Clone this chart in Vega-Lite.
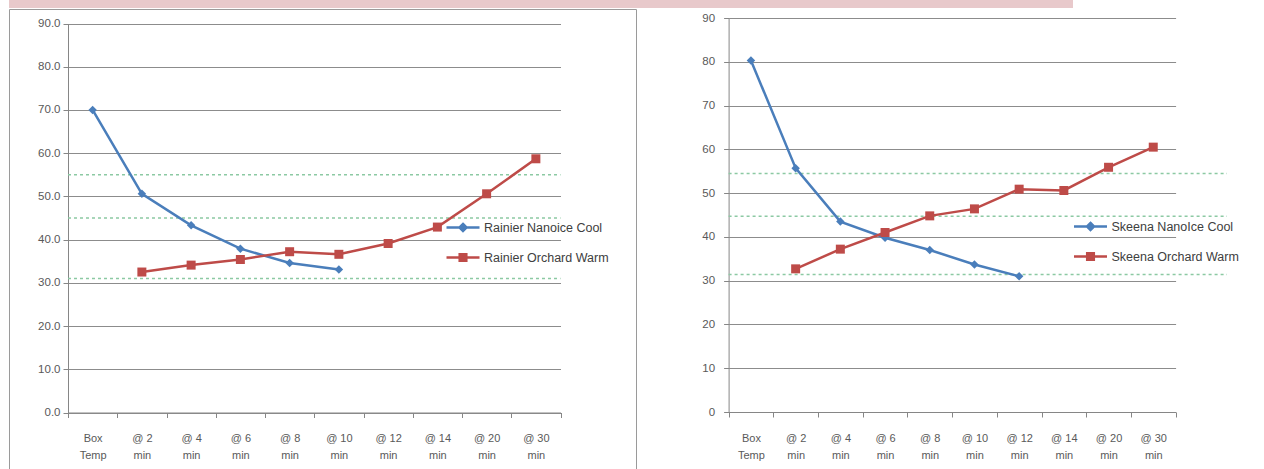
{
  "$schema": "https://vega.github.io/schema/vega-lite/v6.json",
  "padding": {"left": 8, "top": 0, "right": 0, "bottom": 0},
  "background": "white",
  "spacing": 0,
  "config": {
    "font": "Liberation Sans",
    "view": {"stroke": null},
    "axis": {
      "labelFont": "Liberation Sans",
      "labelFontSize": 11.5,
      "labelColor": "#595959",
      "domainColor": "#868686",
      "tickColor": "#868686",
      "gridColor": "#8c8c8c",
      "gridWidth": 1
    },
    "legend": {
      "labelFont": "Liberation Sans",
      "labelFontSize": 12.5,
      "labelColor": "#404040",
      "labelLimit": 0
    }
  },
  "datasets": {
    "rainier": [
      {"time": "Box Temp", "series": "Rainier Nanoice Cool", "temp": 70.0},
      {"time": "@ 2 min", "series": "Rainier Nanoice Cool", "temp": 50.6},
      {"time": "@ 4 min", "series": "Rainier Nanoice Cool", "temp": 43.3},
      {"time": "@ 6 min", "series": "Rainier Nanoice Cool", "temp": 37.9},
      {"time": "@ 8 min", "series": "Rainier Nanoice Cool", "temp": 34.6},
      {"time": "@ 10 min", "series": "Rainier Nanoice Cool", "temp": 33.1},
      {"time": "@ 2 min", "series": "Rainier Orchard Warm", "temp": 32.5},
      {"time": "@ 4 min", "series": "Rainier Orchard Warm", "temp": 34.1},
      {"time": "@ 6 min", "series": "Rainier Orchard Warm", "temp": 35.4},
      {"time": "@ 8 min", "series": "Rainier Orchard Warm", "temp": 37.2},
      {"time": "@ 10 min", "series": "Rainier Orchard Warm", "temp": 36.6},
      {"time": "@ 12 min", "series": "Rainier Orchard Warm", "temp": 39.1},
      {"time": "@ 14 min", "series": "Rainier Orchard Warm", "temp": 42.9},
      {"time": "@ 20 min", "series": "Rainier Orchard Warm", "temp": 50.6},
      {"time": "@ 30 min", "series": "Rainier Orchard Warm", "temp": 58.7}
    ],
    "rainierLimits": [{"level": 31}, {"level": 45}, {"level": 55}],
    "skeena": [
      {"time": "Box Temp", "series": "Skeena NanoIce Cool", "temp": 80.3},
      {"time": "@ 2 min", "series": "Skeena NanoIce Cool", "temp": 55.7},
      {"time": "@ 4 min", "series": "Skeena NanoIce Cool", "temp": 43.5},
      {"time": "@ 6 min", "series": "Skeena NanoIce Cool", "temp": 39.8},
      {"time": "@ 8 min", "series": "Skeena NanoIce Cool", "temp": 37.0},
      {"time": "@ 10 min", "series": "Skeena NanoIce Cool", "temp": 33.7},
      {"time": "@ 12 min", "series": "Skeena NanoIce Cool", "temp": 31.0},
      {"time": "@ 2 min", "series": "Skeena Orchard Warm", "temp": 32.7},
      {"time": "@ 4 min", "series": "Skeena Orchard Warm", "temp": 37.2},
      {"time": "@ 6 min", "series": "Skeena Orchard Warm", "temp": 41.0},
      {"time": "@ 8 min", "series": "Skeena Orchard Warm", "temp": 44.8},
      {"time": "@ 10 min", "series": "Skeena Orchard Warm", "temp": 46.4},
      {"time": "@ 12 min", "series": "Skeena Orchard Warm", "temp": 50.9},
      {"time": "@ 14 min", "series": "Skeena Orchard Warm", "temp": 50.6},
      {"time": "@ 20 min", "series": "Skeena Orchard Warm", "temp": 55.9},
      {"time": "@ 30 min", "series": "Skeena Orchard Warm", "temp": 60.5}
    ],
    "skeenaLimits": [{"level": 31.4}, {"level": 44.7}, {"level": 54.5}]
  },
  "vconcat": [
    {
      "width": 1064,
      "height": 8,
      "view": {"fill": "#e8c9cb", "stroke": null},
      "data": {"values": []},
      "mark": {"type": "text", "text": ""},
      "encoding": {}
    },
    {
      "spacing": 3,
      "resolve": {"scale": {"color": "independent"}},
      "hconcat": [
        {
          "width": 627,
          "height": 465,
          "view": {"stroke": "#9a9a9a", "strokeWidth": 1, "fill": "white"},
          "resolve": {"scale": {"x": "independent"}, "axis": {"x": "independent"}},
          "layer": [
            {
              "data": {"name": "rainierLimits"},
              "mark": {"type": "rule", "color": "#8cc9a3", "strokeWidth": 1.5, "strokeDash": [3, 3]},
              "encoding": {
                "y": {
                  "field": "level", "type": "quantitative",
                  "scale": {"domain": [0, 90], "range": [403.5, 14.5], "nice": false, "zero": true},
                  "axis": {"title": null, "offset": -59, "values": [0, 10, 20, 30, 40, 50, 60, 70, 80, 90], "format": ".1f", "grid": true, "tickSize": 5, "labelPadding": 3}
                },
                "x": {"datum": 0, "type": "quantitative", "scale": {"domain": [0, 1], "range": [59, 551.5]}, "axis": null},
                "x2": {"datum": 1}
              }
            },
            {
              "data": {"name": "rainier"},
              "encoding": {
                "x": {
                  "field": "time", "type": "ordinal",
                  "scale": {"type": "band", "domain": ["Box Temp", "@ 2 min", "@ 4 min", "@ 6 min", "@ 8 min", "@ 10 min", "@ 12 min", "@ 14 min", "@ 20 min", "@ 30 min"], "range": [59, 551.5], "paddingInner": 0, "paddingOuter": 0},
                  "axis": {"orient": "bottom", "offset": -61.5, "title": null, "tickBand": "extent", "tickSize": 5, "labelPadding": 15, "labelAngle": 0, "labelLineHeight": 17, "labelFontSize": 11, "labelOverlap": false, "labelExpr": "!isString(datum.value) ? '' : datum.value == 'Box Temp' ? ['Box', 'Temp'] : [replace(datum.value, ' min', ''), 'min']"}
                },
                "y": {
                  "field": "temp", "type": "quantitative",
                  "scale": {"domain": [0, 90], "range": [403.5, 14.5], "nice": false, "zero": true},
                  "axis": {"title": null, "offset": -59, "values": [0, 10, 20, 30, 40, 50, 60, 70, 80, 90], "format": ".1f", "grid": true, "tickSize": 5, "labelPadding": 3}
                },
                "color": {
                  "field": "series", "type": "nominal",
                  "scale": {"domain": ["Rainier Nanoice Cool", "Rainier Orchard Warm"], "range": ["#4a7ebb", "#be4b48"]},
                  "legend": {
                    "orient": "none", "legendX": 441.5, "legendY": 206, "title": null, "padding": 0,
                    "symbolSize": 484, "symbolStrokeWidth": 2.5, "labelOffset": 8.5, "rowPadding": 8,
                    "encode": {
                      "symbols": {
                        "update": {
                          "shape": {"signal": "datum.value === 'Rainier Nanoice Cool' ? 'M-1.5,0H1.5M0,-0.32L0.32,0L0,0.32L-0.32,0Z' : 'M-1.5,0H1.5M-0.3,-0.3H0.3V0.3H-0.3Z'"},
                          "fill": {"signal": "datum.value === 'Rainier Nanoice Cool' ? '#4a7ebb' : '#be4b48'"},
                          "stroke": {"signal": "datum.value === 'Rainier Nanoice Cool' ? '#4a7ebb' : '#be4b48'"},
                          "strokeWidth": {"value": 2.5},
                          "opacity": {"value": 1}
                        }
                      }
                    }
                  }
                }
              },
              "layer": [
                {"mark": {"type": "line", "strokeWidth": 2.5}},
                {
                  "transform": [{"filter": "datum.series === 'Rainier Nanoice Cool'"}],
                  "mark": {"type": "point", "shape": "diamond", "filled": true, "opacity": 1, "size": 72}
                },
                {
                  "transform": [{"filter": "datum.series === 'Rainier Orchard Warm'"}],
                  "mark": {"type": "point", "shape": "square", "filled": true, "opacity": 1, "size": 81}
                }
              ]
            }
          ]
        },
        {
          "width": 624,
          "height": 465,
          "view": {"stroke": null},
          "resolve": {"scale": {"x": "independent"}, "axis": {"x": "independent"}},
          "layer": [
            {
              "data": {"name": "skeenaLimits"},
              "mark": {"type": "rule", "color": "#8cc9a3", "strokeWidth": 1.5, "strokeDash": [3, 3]},
              "encoding": {
                "y": {
                  "field": "level", "type": "quantitative",
                  "scale": {"domain": [0, 90], "range": [403, 9], "nice": false, "zero": true},
                  "axis": {"title": null, "offset": -88.6, "values": [0, 10, 20, 30, 40, 50, 60, 70, 80, 90], "format": "d", "grid": true, "tickSize": 5, "labelPadding": 9}
                },
                "x": {"datum": 0, "type": "quantitative", "scale": {"domain": [0, 1], "range": [88.6, 535.6]}, "axis": null},
                "x2": {"datum": 1.115}
              }
            },
            {
              "data": {"name": "skeena"},
              "encoding": {
                "x": {
                  "field": "time", "type": "ordinal",
                  "scale": {"type": "band", "domain": ["Box Temp", "@ 2 min", "@ 4 min", "@ 6 min", "@ 8 min", "@ 10 min", "@ 12 min", "@ 14 min", "@ 20 min", "@ 30 min"], "range": [88.6, 535.6], "paddingInner": 0, "paddingOuter": 0},
                  "axis": {"orient": "bottom", "offset": -62, "title": null, "tickBand": "extent", "tickSize": 5, "labelPadding": 15, "labelAngle": 0, "labelLineHeight": 17, "labelFontSize": 11, "labelOverlap": false, "labelExpr": "!isString(datum.value) ? '' : datum.value == 'Box Temp' ? ['Box', 'Temp'] : [replace(datum.value, ' min', ''), 'min']"}
                },
                "y": {
                  "field": "temp", "type": "quantitative",
                  "scale": {"domain": [0, 90], "range": [403, 9], "nice": false, "zero": true},
                  "axis": {"title": null, "offset": -88.6, "values": [0, 10, 20, 30, 40, 50, 60, 70, 80, 90], "format": "d", "grid": true, "tickSize": 5, "labelPadding": 9}
                },
                "color": {
                  "field": "series", "type": "nominal",
                  "scale": {"domain": ["Skeena NanoIce Cool", "Skeena Orchard Warm"], "range": ["#4a7ebb", "#be4b48"]},
                  "legend": {
                    "orient": "none", "legendX": 438, "legendY": 205, "title": null, "padding": 0,
                    "symbolSize": 484, "symbolStrokeWidth": 2.5, "labelOffset": 8.5, "rowPadding": 8,
                    "encode": {
                      "symbols": {
                        "update": {
                          "shape": {"signal": "datum.value === 'Skeena NanoIce Cool' ? 'M-1.5,0H1.5M0,-0.32L0.32,0L0,0.32L-0.32,0Z' : 'M-1.5,0H1.5M-0.3,-0.3H0.3V0.3H-0.3Z'"},
                          "fill": {"signal": "datum.value === 'Skeena NanoIce Cool' ? '#4a7ebb' : '#be4b48'"},
                          "stroke": {"signal": "datum.value === 'Skeena NanoIce Cool' ? '#4a7ebb' : '#be4b48'"},
                          "strokeWidth": {"value": 2.5},
                          "opacity": {"value": 1}
                        }
                      }
                    }
                  }
                }
              },
              "layer": [
                {"mark": {"type": "line", "strokeWidth": 2.5}},
                {
                  "transform": [{"filter": "datum.series === 'Skeena NanoIce Cool'"}],
                  "mark": {"type": "point", "shape": "diamond", "filled": true, "opacity": 1, "size": 72}
                },
                {
                  "transform": [{"filter": "datum.series === 'Skeena Orchard Warm'"}],
                  "mark": {"type": "point", "shape": "square", "filled": true, "opacity": 1, "size": 81}
                }
              ]
            }
          ]
        }
      ]
    }
  ]
}
